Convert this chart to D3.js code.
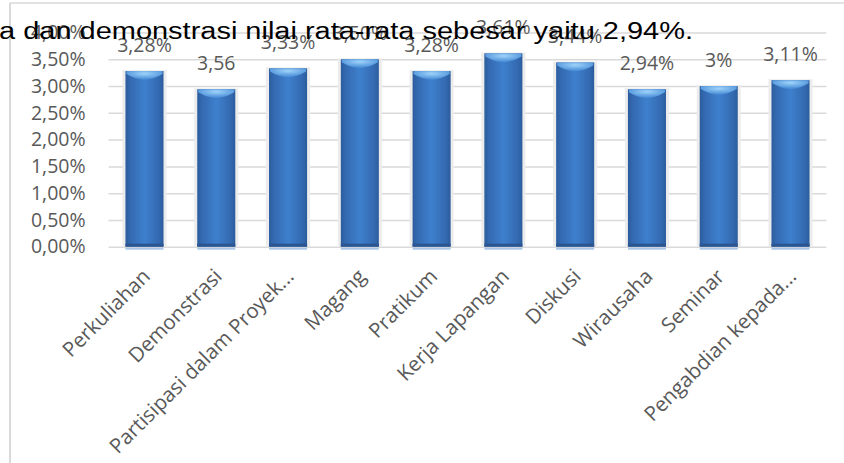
<!DOCTYPE html>
<html>
<head>
<meta charset="utf-8">
<script src="https://cdn.jsdelivr.net/npm/d3@7"></script>
<style>
  body { margin: 0; background: #fff; }
  svg { display: block; }
  .grid line { stroke: #d9d9d9; stroke-width: 1.5; }
  .grid path { display: none; }
  .grid text { fill: #595959; font-family: "Open Sans", sans-serif; font-size: 19.5px; }
  .cat { fill: #595959; font-family: "Open Sans", sans-serif; font-size: 20.5px; }
  .lbl { fill: #595959; font-family: "Open Sans", sans-serif; font-size: 19.5px; }
  .overlay { fill: #000; font-family: "Liberation Sans", Arial, sans-serif; font-size: 23px; }
</style>
</head>
<body>
<div id="chart"></div>
<script>
// data
var categories = ["Perkuliahan", "Demonstrasi", "Partisipasi dalam Proyek...", "Magang", "Pratikum",
                  "Kerja Lapangan", "Diskusi", "Wirausaha", "Seminar", "Pengabdian kepada..."];
var values = [3.28, 2.94, 3.33, 3.50, 3.28, 3.61, 3.44, 2.94, 3.00, 3.11];
var valueLabels = ["3,28%", "3,56", "3,33%", "3,50%", "3,28%", "3,61%", "3,44%", "2,94%", "3%", "3,11%"];
var yTicks = [0, 0.5, 1, 1.5, 2, 2.5, 3, 3.5, 4];
var overlayText = "a dan demonstrasi nilai rata-rata sebesar yaitu 2,94%.";

var W = 844, H = 463;
var plot = {left: 108.6, right: 826.4, top: 32.5, bottom: 246.7};

var svg = d3.select("#chart").append("svg")
    .attr("width", W)
    .attr("height", H);

// gradients for the bars
var defs = svg.append("defs");
var grad = defs.append("linearGradient").attr("id", "barGrad")
    .attr("x1", "0").attr("x2", "1").attr("y1", "0").attr("y2", "0");
[[0, "#2b5c9c"], [0.12, "#3469b0"], [0.5, "#3e80cd"], [0.88, "#3469b0"], [1, "#2b5c9c"]]
  .forEach(function(s) { grad.append("stop").attr("offset", s[0]).attr("stop-color", s[1]); });
var capGrad = defs.append("radialGradient").attr("id", "capGrad")
    .attr("cx", "0.5").attr("cy", "0.3").attr("r", "0.6");
capGrad.append("stop").attr("offset", 0).attr("stop-color", "#9fd3fa");
capGrad.append("stop").attr("offset", 1).attr("stop-color", "#4f93da");

// chart frame
svg.append("line").attr("x1", 10).attr("x2", W).attr("y1", 3).attr("y2", 3)
    .attr("stroke", "#d9d9d9").attr("stroke-width", 1.5);
svg.append("line").attr("x1", 10).attr("x2", 10).attr("y1", 3).attr("y2", H)
    .attr("stroke", "#d9d9d9").attr("stroke-width", 2);

// Scales
var x = d3.scaleBand()
    .domain(categories)
    .range([plot.left, plot.right])
    .paddingInner(0.47)
    .paddingOuter(0.235);

var y = d3.scaleLinear()
    .domain([0, 4])
    .range([plot.bottom, plot.top]);

var fmt = function(d) { return d3.format(".2f")(d).replace(".", ",") + "%"; };

// gridlines + y labels
svg.append("g")
    .attr("class", "grid")
    .attr("transform", "translate(" + plot.left + ",0)")
    .call(d3.axisLeft(y)
        .tickValues(yTicks)
        .tickSize(-(plot.right - plot.left))
        .tickPadding(23)
        .tickFormat(fmt));

// bar shadows
svg.append("g")
    .selectAll("rect")
    .data(values)
    .enter()
    .append("rect")
        .attr("x", function(d, i) { return x(categories[i]) - 3; })
        .attr("y", function(d) { return y(d) - 1; })
        .attr("width", x.bandwidth() + 6)
        .attr("height", function(d) { return y(0) - y(d) + 1; })
        .attr("fill", "#ececec");

// bars
var bars = svg.append("g");
bars.selectAll("rect")
    .data(values)
    .enter()
    .append("rect")
        .attr("x", function(d, i) { return x(categories[i]); })
        .attr("y", function(d) { return y(d); })
        .attr("width", x.bandwidth())
        .attr("height", function(d) { return y(0) - y(d); })
        .attr("fill", "url(#barGrad)");

// light top cap
bars.selectAll("path.cap")
    .data(values)
    .enter()
    .append("path")
        .attr("class", "cap")
        .attr("d", function(d, i) {
            var x0 = x(categories[i]) + 1, x1 = x0 + x.bandwidth() - 2, t = y(d);
            return "M" + x0 + "," + t + "L" + x1 + "," + t +
                   "L" + x1 + "," + (t + 3) +
                   "Q" + (x0 + x1) / 2 + "," + (t + 14) + " " + x0 + "," + (t + 3) + "Z";
        })
        .attr("fill", "url(#capGrad)");

// darker foot of each bar
bars.selectAll("rect.foot")
    .data(values)
    .enter()
    .append("rect")
        .attr("class", "foot")
        .attr("x", function(d, i) { return x(categories[i]); })
        .attr("y", y(0) - 3)
        .attr("width", x.bandwidth())
        .attr("height", 3)
        .attr("fill", "#2a5590");

// pale reflection under the axis
bars.selectAll("rect.refl")
    .data(values)
    .enter()
    .append("rect")
        .attr("class", "refl")
        .attr("x", function(d, i) { return x(categories[i]); })
        .attr("y", y(0) + 1)
        .attr("width", x.bandwidth())
        .attr("height", 2)
        .attr("fill", "#a9c6e6");

// data labels
svg.append("g")
    .selectAll("text")
    .data(values)
    .enter()
    .append("text")
        .attr("class", "lbl")
        .attr("text-anchor", "middle")
        .attr("x", function(d, i) { return x(categories[i]) + x.bandwidth() / 2; })
        .attr("y", function(d) { return y(d) - 19; })
        .text(function(d, i) { return valueLabels[i]; });

// category labels, rotated
svg.append("g")
    .selectAll("text")
    .data(categories)
    .enter()
    .append("text")
        .attr("class", "cat")
        .attr("text-anchor", "end")
        .attr("transform", function(d) {
            return "translate(" + (x(d) + x.bandwidth() / 2 + 7) + "," + (plot.bottom + 31) + ")rotate(-45)";
        })
        .text(function(d) { return d; });

// document text that lies over the chart
svg.append("text")
    .attr("class", "overlay")
    .attr("x", -1)
    .attr("y", 39)
    .attr("textLength", 694)
    .attr("lengthAdjust", "spacingAndGlyphs")
    .text(overlayText);
</script>
</body>
</html>
